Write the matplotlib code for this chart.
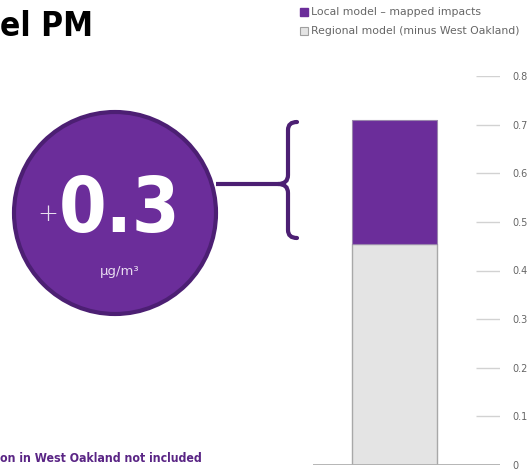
import matplotlib
matplotlib.use("Agg")
import matplotlib.pyplot as plt
from matplotlib.patches import Circle, Rectangle
from matplotlib.path import Path
from matplotlib.patches import PathPatch

# data
series_names = ["Regional model (minus West Oakland)", "Local model \u2013 mapped impacts"]
regional = [0.455]
local = [0.255]
y_ticks = [0, 0.1, 0.2, 0.3, 0.4, 0.5, 0.6, 0.7, 0.8]
y_tick_labels = ["0", "0.1", "0.2", "0.3", "0.4", "0.5", "0.6", "0.7", "0.8"]
callout_value = "0.3"

PURPLE = "#6b2d9a"
DARK_PURPLE = "#4c1f73"
LIGHT = "#e4e4e4"
GREY_TXT = "#666666"
COND = dict(family="DejaVu Sans", fontstretch="condensed")

W, H = 530, 472
fig = plt.figure(figsize=(W / 100, H / 100), dpi=100)

# bar axes, positioned in pixels
x0, x1, y0, y1 = 313, 500, 465, 76
ax = fig.add_axes([x0 / W, (H - y0) / H, (x1 - x0) / W, (y0 - y1) / H])
ax.set_xlim(0, 1)
ax.set_ylim(0, 0.8)
bar_x = [0.436]
ax.bar(bar_x, regional, width=0.4545, color=LIGHT, edgecolor="#a8a8a8", linewidth=1, zorder=2)
ax.bar(bar_x, local, bottom=regional, width=0.4545, color=PURPLE, edgecolor="#9a86ad",
       linewidth=0.8, zorder=2)
ax.hlines(y_ticks[1:], 0.872, 1.0, color="#d2d2d2", linewidth=1, zorder=1)
ax.hlines([0], 0, 1.0, color="#b0b0b0", linewidth=1.3, zorder=3)
for s in ax.spines.values():
    s.set_visible(False)
ax.set_xticks([])
ax.yaxis.tick_right()
ax.set_yticks(y_ticks)
ax.set_yticklabels(y_tick_labels, fontsize=7, color=GREY_TXT)
ax.tick_params(axis="y", length=0, pad=9)

# overlay in pixel coordinates
ov = fig.add_axes([0, 0, 1, 1])
ov.set_xlim(0, W)
ov.set_ylim(H, 0)
ov.axis("off")
ov.patch.set_alpha(0)

ov.text(0, 26, "el PM", fontsize=24, fontweight="bold", color="black",
        ha="left", va="center", **COND)

ov.add_patch(Circle((115, 213), 101, facecolor=PURPLE, edgecolor=DARK_PURPLE, linewidth=3))
ov.text(48, 214, "+", fontsize=18, color="white", ha="center", va="center",
        fontweight="light", alpha=0.85)
ov.text(120, 211, callout_value, fontsize=55, fontweight="bold", color="white",
        ha="center", va="center", **COND)
ov.text(120, 271, "\u00b5g/m\u00b3", fontsize=9.5, color="#e8dcf0", ha="center", va="center")

# connector and brace
ov.plot([216, 278], [184, 184], color=DARK_PURPLE, linewidth=3, solid_capstyle="butt")
verts = [(297, 122), (288, 122), (288, 130), (288, 175), (288, 184), (278, 184),
         (288, 184), (288, 193), (288, 230), (288, 238), (297, 238)]
codes = [Path.MOVETO, Path.CURVE3, Path.CURVE3, Path.LINETO, Path.CURVE3, Path.CURVE3,
         Path.CURVE3, Path.CURVE3, Path.LINETO, Path.CURVE3, Path.CURVE3]
ov.add_patch(PathPatch(Path(verts, codes), facecolor="none", edgecolor=DARK_PURPLE,
                       linewidth=3, capstyle="round"))

# legend
ov.add_patch(Rectangle((300, 8), 8, 8, facecolor=PURPLE, edgecolor=PURPLE))
ov.text(311, 12, series_names[1], fontsize=7.8, color=GREY_TXT, ha="left", va="center")
ov.add_patch(Rectangle((300, 27), 8, 8, facecolor=LIGHT, edgecolor="#a0a0a0", linewidth=0.8))
ov.text(311, 31, series_names[0], fontsize=7.8, color=GREY_TXT, ha="left", va="center")

ov.text(0, 459, "on in West Oakland not included", fontsize=8.8, fontweight="bold",
        color="#5a2585", ha="left", va="center", **COND)

fig.savefig("out.png", dpi=100)
